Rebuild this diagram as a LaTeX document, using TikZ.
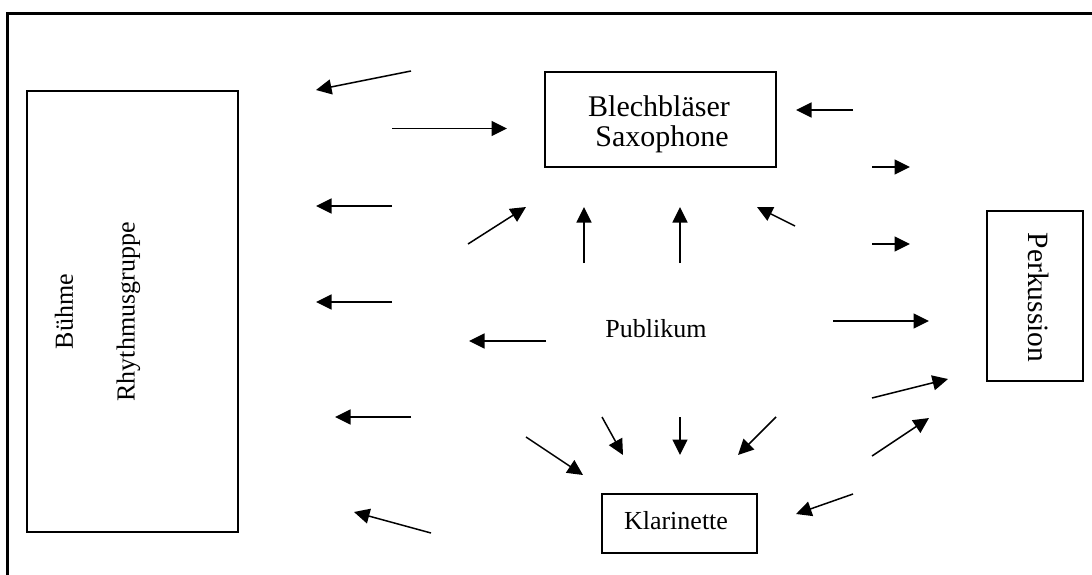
\documentclass[tikz,border=0pt]{standalone}
\usepackage{fontspec}
\setmainfont{Liberation Serif}
\usetikzlibrary{arrows.meta}
\begin{document}
\begin{tikzpicture}[x=1pt,y=-1pt,
  box/.style={draw, rectangle, line width=1.5pt, inner sep=0pt},
  lbl/.style={inner sep=0pt, font=\fontsize{26}{27}\selectfont},
  biglbl/.style={inner sep=0pt, font=\fontsize{30}{31}\selectfont},
  arr/.style={line width=1.5pt, -{Triangle[length=15.5pt,width=15pt]}}]
\useasboundingbox (0,0) rectangle (1092,574);

% outer frame (left and top edges)
\coordinate (fbl) at (7.3,590);
\coordinate (ftl) at (7.3,13.7);
\coordinate (ftr) at (1110,13.7);
\draw[line width=3pt] (fbl) -- (ftl) -- (ftr);

% stage / rhythm section
\node[box, minimum width=211pt, minimum height=441pt] (rhythm) at (132.5,311.5) {};
\node[lbl, rotate=90] (buehne) at (64,311.5) {Bühme};
\node[lbl, rotate=90] (rgruppe) at (128.5,312) {Rhythmusgruppe};

% brass and saxophones
\node[box, minimum width=231pt, minimum height=95pt] (blech) at (660.5,119.5) {};
\node[biglbl, anchor=base] (blechA) at (659,116) {Blechbläser};
\node[biglbl, anchor=base] (blechB) at (662,146) {Saxophone};

% percussion
\node[box, minimum width=96pt, minimum height=170pt] (perk) at (1035,296) {};
\node[inner sep=0pt, font=\fontsize{29.5}{30}\selectfont, rotate=-90] (perkT) at (1039,297.5) {Perkussion};

% clarinet
\node[box, minimum width=155pt, minimum height=59pt] (klar) at (679.5,523.5) {};
\node[lbl, anchor=base] (klarT) at (676,529) {Klarinette};

% audience
\node[lbl, anchor=base] (publikum) at (656,337) {Publikum};

% sound directions
\coordinate (s1) at (411,71);    \coordinate (e1) at (316,90);
\coordinate (s2) at (392,128.5); \coordinate (e2) at (507,128.5);
\coordinate (s3) at (392,206);   \coordinate (e3) at (316,206);
\coordinate (s4) at (392,302);   \coordinate (e4) at (316,302);
\coordinate (s5) at (411,417);   \coordinate (e5) at (335,417);
\coordinate (s6) at (431,533);   \coordinate (e6) at (354,512);
\coordinate (s7) at (468,244);   \coordinate (e7) at (526,207);
\coordinate (s8) at (584,263);   \coordinate (e8) at (584,207);
\coordinate (s9) at (680,263);   \coordinate (e9) at (680,207);
\coordinate (s10) at (795,226);  \coordinate (e10) at (757,207);
\coordinate (s11) at (853,110);  \coordinate (e11) at (796,110);
\coordinate (s12) at (872,167);  \coordinate (e12) at (910,167);
\coordinate (s13) at (872,244);  \coordinate (e13) at (910,244);
\coordinate (s14) at (833,321);  \coordinate (e14) at (929,321);
\coordinate (s15) at (872,398);  \coordinate (e15) at (948,379);
\coordinate (s16) at (872,456);  \coordinate (e16) at (929,418);
\coordinate (s17) at (853,494);  \coordinate (e17) at (796,514);
\coordinate (s18) at (776,417);  \coordinate (e18) at (738,455);
\coordinate (s19) at (680,417);  \coordinate (e19) at (680,455);
\coordinate (s20) at (602,417);  \coordinate (e20) at (623,455);
\coordinate (s21) at (526,437);  \coordinate (e21) at (583,475);
\coordinate (s22) at (546,341);  \coordinate (e22) at (469,341);

\foreach \i in {1,...,22} \draw[arr] (s\i) -- (e\i);
\end{tikzpicture}
\end{document}
